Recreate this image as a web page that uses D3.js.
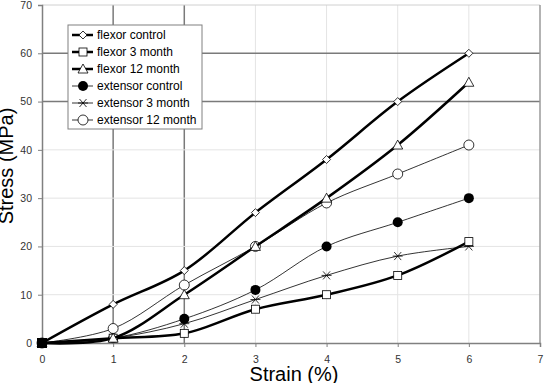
<!DOCTYPE html>
<html>
<head>
<meta charset="utf-8">
<script src="https://cdn.jsdelivr.net/npm/d3@7"></script>
<style>
  body { margin: 0; background: #fff; }
  svg { font-family: "Liberation Sans", Arial, sans-serif; }
</style>
</head>
<body>
<svg id="chart"></svg>
<script>
const strain = [0, 1, 2, 3, 4, 5, 6];
const flexorControl = [0, 8, 15, 27, 38, 50, 60];
const flexor3 = [0, 1, 2, 7, 10, 14, 21];
const flexor12 = [0, 1, 10, 20, 30, 41, 54];
const extensorControl = [0, 1, 5, 11, 20, 25, 30];
const extensor3 = [0, 1, 4, 9, 14, 18, 20];
const extensor12 = [0, 3, 12, 20, 29, 35, 41];
const xTicks = [0, 1, 2, 3, 4, 5, 6, 7];
const yTicks = [0, 10, 20, 30, 40, 50, 60, 70];

const series = [
  { name: "flexor control", values: flexorControl, marker: "diamond", thick: true },
  { name: "flexor 3 month", values: flexor3, marker: "square", thick: true },
  { name: "flexor 12 month", values: flexor12, marker: "triangle", thick: true },
  { name: "extensor control", values: extensorControl, marker: "dot", thick: false },
  { name: "extensor 3 month", values: extensor3, marker: "star", thick: false },
  { name: "extensor 12 month", values: extensor12, marker: "circle", thick: false }
];

let svg_width = 544, svg_height = 383;
const svg = d3.select("#chart").attr("width", svg_width).attr("height", svg_height);

let x = d3.scaleLinear().domain([0, 7]).range([42, 540]);
let y = d3.scaleLinear().domain([0, 70]).range([343, 5]);

// gridlines (the ones at 1,2 and 50,60 are darker in the original)
const darkX = [1, 2], darkY = [50, 60];
svg.append("g").selectAll("line")
  .data(xTicks.filter(d => d > 0 && d < 7)).enter().append("line")
  .attr("x1", d => x(d)).attr("x2", d => x(d))
  .attr("y1", y(0)).attr("y2", y(70))
  .attr("stroke", d => darkX.includes(d) ? "#7a7a7a" : "#e4e4e4")
  .attr("stroke-width", d => darkX.includes(d) ? 1.5 : 1);
svg.append("g").selectAll("line")
  .data(yTicks.filter(d => d > 0)).enter().append("line")
  .attr("x1", x(0)).attr("x2", x(7))
  .attr("y1", d => y(d)).attr("y2", d => y(d))
  .attr("stroke", d => darkY.includes(d) ? "#7a7a7a" : (d === 70 ? "#d0d0d0" : "#e4e4e4"))
  .attr("stroke-width", d => darkY.includes(d) ? 1.5 : 1);
// right border
svg.append("line")
  .attr("x1", x(7)).attr("x2", x(7)).attr("y1", y(0)).attr("y2", y(70))
  .attr("stroke", "#9a9a9a").attr("stroke-width", 1.5);

// axes
const xAxis = svg.append("g").attr("transform", `translate(0,${y(0)})`)
  .call(d3.axisBottom(x).tickValues(xTicks).tickFormat(d3.format("d")).tickSize(4).tickPadding(9));
const yAxis = svg.append("g").attr("transform", `translate(${x(0)},0)`)
  .call(d3.axisLeft(y).tickValues(yTicks).tickFormat(d3.format("d")).tickSize(4).tickPadding(6));
[xAxis, yAxis].forEach(a => {
  a.select(".domain").attr("stroke", "#808080").attr("stroke-width", 1.5);
  a.selectAll(".tick line").attr("stroke", "#808080");
  a.selectAll(".tick text").attr("fill", "#333").attr("font-size", 10.5)
    .attr("font-family", "Liberation Sans, Arial, sans-serif");
});

svg.append("text")
  .attr("x", 294).attr("y", 381)
  .attr("text-anchor", "middle").attr("font-size", 20).attr("fill", "#000")
  .text("Strain (%)");
svg.append("text")
  .attr("transform", "translate(13,166) rotate(-90)")
  .attr("text-anchor", "middle").attr("font-size", 20).attr("fill", "#000")
  .text("Stress (MPa)");

let lineGenerator = d3.line()
  .x((d, i) => x(strain[i]))
  .y(d => y(d))
  .curve(d3.curveCatmullRom.alpha(0.5));

function drawMarker(g, type, cx, cy) {
  if (type === "diamond") {
    g.append("path").attr("d", `M${cx},${cy - 4}L${cx + 4},${cy}L${cx},${cy + 4}L${cx - 4},${cy}Z`)
      .attr("fill", "#fff").attr("stroke", "#000").attr("stroke-width", 0.8);
  } else if (type === "square") {
    g.append("rect").attr("x", cx - 4).attr("y", cy - 4).attr("width", 8).attr("height", 8)
      .attr("fill", "#fff").attr("stroke", "#000").attr("stroke-width", 0.8);
  } else if (type === "triangle") {
    g.append("path").attr("d", `M${cx},${cy - 5}L${cx + 5},${cy + 4}L${cx - 5},${cy + 4}Z`)
      .attr("fill", "#fff").attr("stroke", "#000").attr("stroke-width", 0.8);
  } else if (type === "dot") {
    g.append("circle").attr("cx", cx).attr("cy", cy).attr("r", 5).attr("fill", "#000");
  } else if (type === "circle") {
    g.append("circle").attr("cx", cx).attr("cy", cy).attr("r", 5)
      .attr("fill", "#fff").attr("stroke", "#000").attr("stroke-width", 0.8);
  } else if (type === "star") {
    const r = 5;
    g.append("path")
      .attr("d", `M${cx - r},${cy}L${cx + r},${cy}M${cx - 3.5},${cy - 4}L${cx + 3.5},${cy + 4}M${cx - 3.5},${cy + 4}L${cx + 3.5},${cy - 4}`)
      .attr("stroke", "#000").attr("stroke-width", 0.8).attr("fill", "none");
  }
}

// draw series: thin ones first, then thick
const order = [3, 4, 5, 0, 1, 2];
order.forEach(k => {
  const s = series[k];
  const g = svg.append("g");
  g.append("path")
    .attr("fill", "none").attr("stroke", "#000")
    .attr("stroke-width", s.thick ? 2.5 : 0.8)
    .attr("d", lineGenerator(s.values));
  s.values.forEach((v, i) => drawMarker(g, s.marker, x(strain[i]), y(v)));
});

// origin: markers overlap into a solid black square
svg.append("rect").attr("x", x(0) - 5).attr("y", y(0) - 5).attr("width", 10).attr("height", 10).attr("fill", "#000");

// legend
const legend = svg.append("g").attr("transform", "translate(68,25)");
legend.append("rect").attr("width", 134).attr("height", 104)
  .attr("fill", "#fff").attr("stroke", "#808080").attr("stroke-width", 1);
series.forEach((s, i) => {
  const ly = 10 + i * 17;
  const g = legend.append("g");
  g.append("line").attr("x1", 4).attr("x2", 25).attr("y1", ly).attr("y2", ly)
    .attr("stroke", "#000").attr("stroke-width", s.thick ? 2.5 : 0.8);
  drawMarker(g, s.marker, 15, ly);
  g.append("text").attr("x", 29).attr("y", ly + 4).attr("font-size", 12).attr("fill", "#000")
    .text(s.name);
});
</script>
</body>
</html>
